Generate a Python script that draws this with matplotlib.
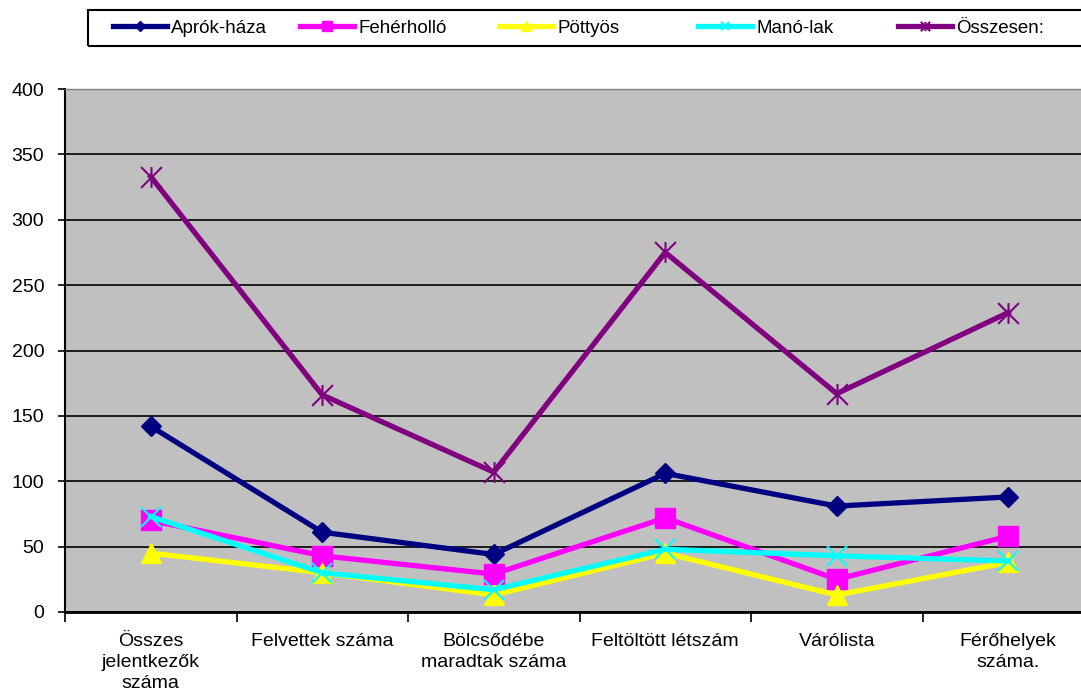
import numpy as np
import matplotlib.pyplot as plt
from matplotlib.path import Path
from matplotlib.patches import Rectangle

plt.rcParams['font.family'] = ['Liberation Sans', 'DejaVu Sans']

# kategóriák
categories = ['Összes\njelentkezők\nszáma', 'Felvettek száma', 'Bölcsődébe\nmaradtak száma',
              'Feltöltött létszám', 'Várólista', 'Férőhelyek\nszáma.']

# adatok
aprok_haza = [142, 61, 44, 106, 81, 88]
feherhollo = [70, 43, 29, 72, 25, 58]
pottyos = [45, 30, 13, 45, 13, 38]
mano_lak = [73, 30, 17, 48, 43, 39]
osszesen = [333, 166, 107, 275, 167, 229]

# csillag jelölő (x + függőleges vonal)
star = Path([(-1, -1), (1, 1), (-1, 1), (1, -1), (0, -1), (0, 1)],
            [Path.MOVETO, Path.LINETO, Path.MOVETO, Path.LINETO, Path.MOVETO, Path.LINETO])

series = [
    ('Aprók-háza', aprok_haza, '#000080', 'D', 10.5, 1),
    ('Fehérholló', feherhollo, '#FF00FF', 's', 15, 1),
    ('Pöttyös', pottyos, '#FFFF00', '^', 15, 1),
    ('Manó-lak', mano_lak, '#00FFFF', 'x', 14, 1.5),
    ('Összesen:', osszesen, '#800080', star, 15, 1.5),
]

fig = plt.figure(figsize=(10.81, 6.98), dpi=100)
W, H = 1081, 698
ax = fig.add_axes([65 / W, (H - 612) / H, 1029 / W, 523 / H])
ax.set_facecolor('#C0C0C0')

x = np.arange(len(categories))
lines = []
for name, vals, col, mk, ms, mew in series:
    ln, = ax.plot(x, vals, color=col, lw=3.8, marker=mk, markersize=ms,
                  markerfacecolor=col, markeredgecolor=col, markeredgewidth=mew,
                  solid_joinstyle='miter', label=name)
    lines.append(ln)

ax.set_xlim(-0.5, len(categories) - 0.5)
ax.set_ylim(0, 400)
ax.set_yticks(np.arange(0, 401, 50))
ax.yaxis.grid(True, color='black', lw=1.2)
ax.set_axisbelow(True)

ax.set_xticks(x)
ax.set_xticklabels(categories, fontsize=14, linespacing=1.3)
ax.set_xticks(np.arange(-0.5, len(categories)), minor=True)
ax.tick_params(axis='x', which='major', length=0, pad=15)
ax.tick_params(axis='x', which='minor', length=7, width=1.2, direction='out')
ax.tick_params(axis='y', length=5, width=1.2, direction='out', pad=10, labelsize=14)

ax.spines['left'].set_linewidth(1.5)
ax.spines['bottom'].set_linewidth(2)
ax.spines['top'].set_color('#808080')
ax.spines['top'].set_linewidth(1)
ax.spines['right'].set_visible(False)

# jelmagyarázat keret
fig.add_artist(Rectangle((88 / W, 1 - 46 / H), 1010 / W, 36 / H, transform=fig.transFigure,
                         fill=False, edgecolor='black', lw=1.5))

leg_x = [113, 300, 499, 698, 898]
for ln, lx in zip(lines, leg_x):
    fig.legend([ln], [ln.get_label()], loc='center left', bbox_to_anchor=(lx / W, 1 - 28 / H),
               frameon=False, fontsize=13.5, handlelength=2.9, handletextpad=0.2,
               borderpad=0, borderaxespad=0, markerscale=0.45)

plt.savefig('out.png', dpi=100)
